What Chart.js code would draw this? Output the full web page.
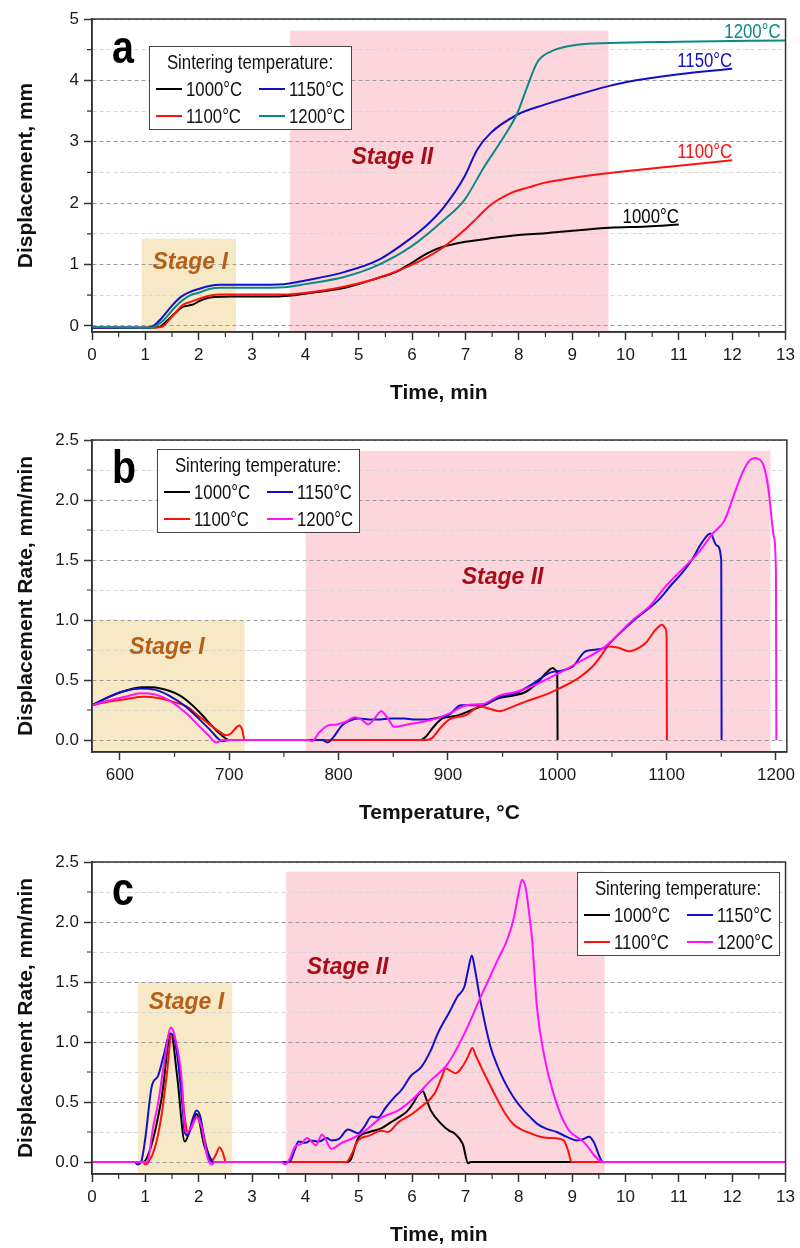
<!DOCTYPE html>
<html>
<head>
<meta charset="utf-8">
<script src="https://cdn.jsdelivr.net/npm/chart.js@4.4.1/dist/chart.umd.min.js"></script>
<style>
  html, body { margin: 0; padding: 0; background: #fff; }
  #wrap { position: relative; width: 800px; height: 1248px; }
  canvas { position: absolute; left: 0; top: 0; }
</style>
</head>
<body>
<div id="wrap">
  <canvas id="chartA" width="800" height="1248"></canvas>
  <canvas id="chartB" width="800" height="1248"></canvas>
  <canvas id="chartC" width="800" height="1248"></canvas>
</div>
<script>
const seriesNames = ['1000°C', '1100°C', '1150°C', '1200°C'];

// (a) displacement, mm vs time, min
const dispTime1000 = [[0,-0.03],[1.0,-0.03],[1.25,-0.02],[1.4,0.08],[1.55,0.2],[1.7,0.31],[1.8,0.33],[1.9,0.35],[2.0,0.4],[2.15,0.45],[2.3,0.47],[2.6,0.48],[3.0,0.48],[3.5,0.48],[3.8,0.5],[4.2,0.55],[4.74,0.62],[5.36,0.78],[5.7,0.88],[5.98,1.02],[6.2,1.14],[6.45,1.25],[6.72,1.32],[7.0,1.37],[7.5,1.43],[8.0,1.48],[8.5,1.51],[9.0,1.55],[9.7,1.6],[10.4,1.62],[11,1.65]];
const dispTime1100 = [[0,-0.03],[1.1,-0.03],[1.3,-0.02],[1.45,0.1],[1.6,0.25],[1.7,0.34],[1.85,0.39],[2.0,0.44],[2.2,0.49],[2.4,0.51],[3.0,0.51],[3.5,0.51],[3.8,0.52],[4.2,0.56],[4.74,0.64],[5.36,0.78],[5.98,0.99],[6.3,1.13],[6.6,1.29],[6.98,1.56],[7.22,1.76],[7.47,1.97],[7.84,2.16],[8.2,2.26],[8.47,2.33],[9.0,2.41],[9.7,2.49],[10,2.52],[11,2.61],[12,2.7]];
const dispTime1150 = [[0,-0.03],[1.05,-0.03],[1.15,0.0],[1.3,0.12],[1.5,0.33],[1.68,0.48],[1.86,0.56],[2.0,0.6],[2.2,0.65],[2.4,0.67],[3.0,0.67],[3.6,0.68],[4.0,0.74],[4.74,0.88],[5.36,1.07],[5.98,1.43],[6.3,1.66],[6.6,1.94],[6.98,2.43],[7.22,2.87],[7.47,3.14],[7.97,3.44],[8.47,3.6],[9.0,3.74],[9.7,3.91],[10,3.97],[11,4.1],[12,4.19]];
const dispTime1200 = [[0,-0.02],[1.1,-0.03],[1.2,0.0],[1.35,0.1],[1.55,0.3],[1.7,0.42],[1.85,0.5],[2.0,0.54],[2.2,0.6],[2.4,0.62],[3.0,0.62],[3.6,0.63],[4.0,0.68],[4.74,0.8],[5.36,0.99],[5.98,1.29],[6.6,1.73],[6.98,2.05],[7.35,2.59],[7.72,3.08],[7.97,3.46],[8.16,3.9],[8.35,4.3],[8.6,4.47],[9.1,4.58],[9.7,4.61],[11,4.63],[13,4.65]];

// (b) displacement rate, mm/min vs temperature, °C
const rateTemp1000 = [[574.5,0.29],[590,0.36],[605,0.41],[620,0.44],[630,0.44],[645,0.41],[655,0.37],[665,0.3],[675,0.21],[685,0.11],[693,0.04],[700,0.0],[706,0.0],[720,0],[800,0],[874,0],[880,0.03],[886,0.1],[895,0.18],[907,0.2],[922,0.25],[935,0.3],[947,0.35],[960,0.37],[971,0.4],[980,0.46],[990,0.56],[996,0.6],[999,0.58],[1000,0.56],[1000.3,0]];
const rateTemp1100 = [[574.5,0.29],[590,0.32],[605,0.34],[622,0.36],[635,0.35],[648,0.32],[661,0.28],[672,0.2],[682,0.13],[691,0.07],[697,0.04],[701,0.05],[705,0.09],[709,0.12],[712,0.08],[714,0],[800,0],[880,0],[886,0.02],[893,0.1],[901,0.17],[917,0.21],[929,0.28],[938,0.26],[947,0.24],[960,0.28],[971,0.32],[990,0.38],[1002,0.43],[1020,0.52],[1032,0.61],[1040,0.7],[1047,0.78],[1055,0.77],[1066,0.74],[1075,0.77],[1081,0.81],[1090,0.92],[1096,0.96],[1099,0.93],[1100,0.86],[1100.3,0]];
const rateTemp1150 = [[574.5,0.29],[590,0.36],[605,0.41],[619,0.43],[632,0.42],[645,0.37],[660,0.28],[673,0.17],[684,0.07],[690,0.01],[694,-0.01],[700,0],[785,0],[790,-0.02],[795,0.02],[803,0.12],[810,0.16],[818,0.18],[830,0.17],[836,0.17],[848,0.18],[860,0.18],[870,0.17],[880,0.17],[893,0.19],[901,0.21],[912,0.29],[932,0.29],[947,0.36],[962,0.39],[978,0.47],[993,0.56],[1005,0.58],[1014,0.61],[1026,0.74],[1041,0.76],[1055,0.87],[1069,0.99],[1080,1.07],[1093,1.17],[1105,1.3],[1114,1.39],[1123,1.5],[1132,1.64],[1140,1.72],[1146,1.62],[1150,1.5],[1150.3,0]];
const rateTemp1200 = [[574.5,0.29],[590,0.33],[605,0.36],[619,0.39],[632,0.38],[645,0.33],[661,0.22],[672,0.12],[681,0.04],[688,-0.02],[695,0],[772,0],[776,-0.01],[782,0.06],[790,0.12],[798,0.13],[806,0.15],[815,0.19],[821,0.17],[827,0.13],[833,0.18],[839,0.24],[845,0.18],[851,0.11],[863,0.13],[876,0.15],[890,0.18],[901,0.22],[917,0.29],[932,0.3],[947,0.37],[962,0.4],[980,0.46],[1002,0.56],[1020,0.65],[1044,0.78],[1069,1.0],[1085,1.12],[1099,1.28],[1114,1.42],[1130,1.57],[1142,1.72],[1153,1.83],[1160,2.0],[1169,2.22],[1176,2.33],[1181,2.35],[1186,2.33],[1189,2.28],[1193,2.1],[1195,1.94],[1198,1.7],[1200,1.4],[1200.4,0]];

// (c) displacement rate, mm/min vs time, min
const rateTime1000 = [[0,0],[0.85,0],[0.96,0],[1.1,0.12],[1.3,0.52],[1.48,1.07],[1.6,0.7],[1.74,0.17],[1.86,0.3],[1.96,0.4],[2.11,0.13],[2.26,0.0],[3,0],[4.8,0],[4.85,0.02],[4.99,0.2],[5.2,0.25],[5.42,0.28],[5.6,0.33],[5.74,0.37],[5.9,0.42],[6.02,0.49],[6.1,0.55],[6.2,0.59],[6.27,0.52],[6.35,0.43],[6.54,0.32],[6.7,0.26],[6.79,0.24],[6.95,0.15],[7.05,-0.01],[7.1,0],[13,0]];
const rateTime1100 = [[0,0],[0.95,0],[1.0,-0.02],[1.06,0],[1.18,0.12],[1.3,0.38],[1.4,0.72],[1.49,1.05],[1.56,1.0],[1.64,0.8],[1.76,0.3],[1.8,0.24],[1.88,0.3],[1.96,0.38],[2.05,0.3],[2.17,0.08],[2.26,0.02],[2.32,0.06],[2.39,0.12],[2.45,0.08],[2.51,0.0],[4.77,0],[4.85,0.05],[4.99,0.18],[5.2,0.22],[5.42,0.26],[5.55,0.25],[5.74,0.33],[6.0,0.4],[6.17,0.46],[6.42,0.57],[6.55,0.7],[6.63,0.78],[6.72,0.76],[6.82,0.74],[6.95,0.8],[7.05,0.88],[7.13,0.95],[7.2,0.88],[7.35,0.74],[7.6,0.52],[7.75,0.4],[7.91,0.31],[8.05,0.27],[8.22,0.24],[8.4,0.21],[8.59,0.2],[8.84,0.18],[8.92,0.1],[8.99,0.0],[13,0]];
const rateTime1150 = [[0,0],[0.8,0],[0.85,-0.02],[0.92,0.0],[1.0,0.2],[1.12,0.63],[1.24,0.72],[1.35,0.9],[1.46,1.07],[1.53,1.05],[1.61,0.85],[1.7,0.45],[1.74,0.24],[1.8,0.22],[1.88,0.35],[1.96,0.43],[2.03,0.38],[2.11,0.18],[2.23,0.02],[2.3,0],[3.7,0],[3.8,0.1],[3.87,0.17],[4.0,0.16],[4.1,0.18],[4.25,0.17],[4.4,0.2],[4.49,0.18],[4.62,0.19],[4.8,0.27],[4.99,0.24],[5.1,0.29],[5.24,0.38],[5.36,0.37],[5.5,0.45],[5.67,0.54],[5.8,0.6],[5.98,0.72],[6.17,0.79],[6.35,0.93],[6.48,1.07],[6.7,1.25],[6.85,1.38],[6.98,1.46],[7.05,1.6],[7.12,1.72],[7.18,1.6],[7.29,1.32],[7.47,0.96],[7.6,0.8],[7.72,0.68],[7.9,0.54],[8.09,0.43],[8.2,0.38],[8.34,0.32],[8.5,0.28],[8.71,0.25],[8.9,0.21],[9.09,0.18],[9.2,0.19],[9.32,0.21],[9.4,0.17],[9.58,0.0],[13,0]];
const rateTime1200 = [[0,0],[0.95,0],[1.03,0.0],[1.15,0.3],[1.24,0.49],[1.35,0.82],[1.48,1.12],[1.55,1.05],[1.67,0.74],[1.76,0.24],[1.85,0.28],[1.96,0.37],[2.05,0.3],[2.17,0.03],[2.25,-0.02],[2.3,0],[3.55,0],[3.62,-0.02],[3.7,0.02],[3.81,0.13],[3.92,0.15],[4.03,0.2],[4.2,0.14],[4.31,0.23],[4.49,0.11],[4.68,0.16],[4.9,0.2],[5.12,0.26],[5.42,0.37],[5.74,0.43],[6.05,0.54],[6.35,0.68],[6.67,0.82],[6.98,1.07],[7.29,1.38],[7.6,1.68],[7.78,1.85],[7.91,2.04],[8.0,2.25],[8.06,2.35],[8.13,2.28],[8.2,2.05],[8.25,1.85],[8.34,1.29],[8.47,0.9],[8.65,0.57],[8.9,0.29],[9.21,0.17],[9.58,0],[13,0]];

// axis ticks
const timeMajor = [0,1,2,3,4,5,6,7,8,9,10,11,12,13];
const timeMinor = [0.5,1.5,2.5,3.5,4.5,5.5,6.5,7.5,8.5,9.5,10.5,11.5,12.5];
const tempMajor = [600,700,800,900,1000,1100,1200];
const tempMinor = [650,750,850,950,1050,1150];
const dispMajor = [0,1,2,3,4,5];
const dispMinor = [0.5,1.5,2.5,3.5,4.5];
const rateMajor = [0,0.5,1,1.5,2,2.5];
const rateMinor = [0.25,0.75,1.25,1.75,2.25];

// stage regions: [start, end, top value]
const stagesA = [[0.93, 2.70, 1.42], [3.71, 9.68, 4.81]];
const stagesB = [[574.5, 714, 1.0], [770, 1195, 2.41]];
const stagesC = [[0.86, 2.63, 1.5], [3.64, 9.61, 2.42]];
const stageNames = ['Stage I', 'Stage II'];

const colorsA = ['#000000', '#ff1010', '#1010c8', '#0a8a84'];
const colorsBC = ['#000000', '#ff1010', '#1010c8', '#ff10ff'];
const stageFill = ['#f7e9c6', '#fdd5dc'];
const stageInk = ['#b5601a', '#a50d18'];

const sans = "'Liberation Sans', Arial, sans-serif";
const SQUEEZE = 0.84; // narrow look for hand-drawn labels

function narrowText(ctx, text, x, y) {
    ctx.save();
    ctx.translate(x, y);
    ctx.scale(SQUEEZE, 1);
    ctx.fillText(text, 0, 0);
    ctx.restore();
}

function axis(dir, min, max, major, minor, title, fmt) {
    const isMajor = v => major.includes(v);
    return {
        type: 'linear',
        position: dir === 'x' ? 'bottom' : 'left',
        min: min,
        max: max,
        afterBuildTicks: s => { s.ticks = major.concat(minor).sort((a, b) => a - b).map(v => ({ value: v })); },
        afterFit: s => { if (dir === 'x') s.height = 74; else s.width = 92; },
        ticks: {
            autoSkip: false, maxRotation: 0, padding: dir === 'x' ? 5 : 5, color: '#1a1a1a',
            font: { family: sans, size: 17 },
            callback: v => isMajor(v) ? fmt(v) : ''
        },
        grid: {
            drawOnChartArea: dir === 'y',
            color: c => (c.tick && isMajor(c.tick.value)) ? '#9c9c9c' : '#d6d6d6',
            lineWidth: 1,
            tickLength: 8,
            tickWidth: 1.5,
            tickColor: c => (c.tick && isMajor(c.tick.value)) ? '#333' : 'rgba(0,0,0,0)'
        },
        border: { color: '#333', width: 1.5, dash: c => c.tick ? [4, 3] : [] },
        title: {
            display: true, text: title, color: '#111',
            font: { family: sans, size: 21, weight: 'bold', lineHeight: 1 },
            padding: dir === 'x' ? { top: 0, bottom: 2 } : { top: 16, bottom: 0 }
        }
    };
}

function decor(p) {
    return {
        id: 'decor_' + p.letter,
        beforeDraw(chart) {
            const { ctx, chartArea: ca, scales: { x, y } } = chart;
            ctx.save();
            p.stages.forEach(([x0, x1, top], k) => {
                const l = Math.max(x.getPixelForValue(x0), ca.left);
                const r = Math.min(x.getPixelForValue(x1), ca.right);
                const t = y.getPixelForValue(top);
                ctx.fillStyle = stageFill[k];
                ctx.fillRect(l, t, r - l, ca.bottom - t);
            });
            ctx.restore();
        },
        afterDraw(chart) {
            const { ctx, chartArea: ca, scales: { x, y } } = chart;
            ctx.save();
            // frame
            ctx.strokeStyle = '#333';
            ctx.lineWidth = 1.5;
            ctx.strokeRect(ca.left, ca.top, ca.right - ca.left, ca.bottom - ca.top);
            // minor tick marks
            ctx.lineWidth = 1.2;
            ctx.beginPath();
            p.xMinor.forEach(v => {
                const px = x.getPixelForValue(v);
                ctx.moveTo(px, ca.bottom); ctx.lineTo(px, ca.bottom + 5);
            });
            p.yMinor.forEach(v => {
                const py = y.getPixelForValue(v);
                ctx.moveTo(ca.left, py); ctx.lineTo(ca.left - 5, py);
            });
            ctx.stroke();

            // stage labels
            ctx.font = 'italic bold 23px ' + sans;
            ctx.textAlign = 'center';
            ctx.textBaseline = 'middle';
            p.stageText.forEach(([tx, ty], k) => {
                ctx.fillStyle = stageInk[k];
                ctx.fillText(stageNames[k], x.getPixelForValue(tx), y.getPixelForValue(ty));
            });

            // panel letter
            ctx.fillStyle = '#000';
            ctx.font = 'bold 47px ' + sans;
            ctx.textAlign = 'left';
            ctx.textBaseline = 'alphabetic';
            narrowText(ctx, p.letter, ca.left + 20, ca.top + p.letterDy);

            // end-of-curve labels
            if (p.endLabels) {
                ctx.font = '20px ' + sans;
                ctx.textAlign = 'right';
                p.series.forEach((pts, i) => {
                    const [lx, ly] = pts[pts.length - 1];
                    ctx.fillStyle = p.colors[i];
                    narrowText(ctx, seriesNames[i], Math.min(x.getPixelForValue(lx), ca.right - 5), y.getPixelForValue(ly) - 2);
                });
            }

            // legend box
            const L = ca.left + p.legend[0], T = ca.top + p.legend[1];
            ctx.fillStyle = '#fff';
            ctx.fillRect(L, T, 202, 83);
            ctx.strokeStyle = '#444';
            ctx.lineWidth = 1;
            ctx.strokeRect(L + 0.5, T + 0.5, 202, 83);
            ctx.fillStyle = '#111';
            ctx.font = '20px ' + sans;
            ctx.textAlign = 'center';
            ctx.textBaseline = 'middle';
            narrowText(ctx, 'Sintering temperature:', L + 101, T + 17);
            const slots = [[0, 0, 0], [2, 1, 0], [1, 0, 1], [3, 1, 1]];
            ctx.textAlign = 'left';
            slots.forEach(([i, col, row]) => {
                const cx = L + 7 + col * 103, cy = T + 43 + row * 27;
                ctx.strokeStyle = p.colors[i];
                ctx.lineWidth = 2;
                ctx.beginPath();
                ctx.moveTo(cx, cy); ctx.lineTo(cx + 26, cy);
                ctx.stroke();
                ctx.fillStyle = '#111';
                narrowText(ctx, seriesNames[i], cx + 30, cy + 1);
            });
            ctx.restore();
        }
    };
}

function makePanel(id, p) {
    const datasets = p.series.map((pts, i) => ({
        label: seriesNames[i],
        data: pts.map(([x, y]) => ({ x: x, y: y })),
        borderColor: p.colors[i],
        borderWidth: 2,
        pointRadius: 0,
        fill: false,
        cubicInterpolationMode: 'monotone',
        order: p.series.length - i
    }));
    return new Chart(document.getElementById(id), {
        type: 'line',
        data: { datasets: datasets },
        options: {
            responsive: false,
            animation: false,
            events: [],
            layout: { padding: { left: 0, right: 10, top: p.top, bottom: 1248 - p.bottom - 74 } },
            plugins: { legend: { display: false }, tooltip: { enabled: false } },
            scales: {
                x: axis('x', p.xMin, p.xMax, p.xMajor, p.xMinor, p.xTitle, p.xFmt),
                y: axis('y', p.yMin, p.yMax, p.yMajor, p.yMinor, p.yTitle, p.yFmt)
            }
        },
        plugins: [decor(p)]
    });
}

makePanel('chartA', {
    letter: 'a', letterDy: 44, top: 19, bottom: 332,
    xMin: 0, xMax: 13, yMin: -0.1, yMax: 5,
    xMajor: timeMajor, xMinor: timeMinor, yMajor: dispMajor, yMinor: dispMinor,
    xTitle: 'Time, min', yTitle: 'Displacement, mm',
    xFmt: v => String(v), yFmt: v => String(v),
    series: [dispTime1000, dispTime1100, dispTime1150, dispTime1200], colors: colorsA,
    stages: stagesA, stageText: [[1.84, 1.03], [5.63, 2.74]],
    legend: [57, 27], endLabels: true
});

makePanel('chartB', {
    letter: 'b', letterDy: 43, top: 440, bottom: 752,
    xMin: 574.5, xMax: 1210, yMin: -0.1, yMax: 2.5,
    xMajor: tempMajor, xMinor: tempMinor, yMajor: rateMajor, yMinor: rateMinor,
    xTitle: 'Temperature, °C', yTitle: 'Displacement Rate, mm/min',
    xFmt: v => String(v), yFmt: v => v.toFixed(1),
    series: [rateTemp1000, rateTemp1100, rateTemp1150, rateTemp1200], colors: colorsBC,
    stages: stagesB, stageText: [[643, 0.77], [950, 1.35]],
    legend: [65, 9], endLabels: false
});

makePanel('chartC', {
    letter: 'c', letterDy: 43, top: 862, bottom: 1174,
    xMin: 0, xMax: 13, yMin: -0.1, yMax: 2.5,
    xMajor: timeMajor, xMinor: timeMinor, yMajor: rateMajor, yMinor: rateMinor,
    xTitle: 'Time, min', yTitle: 'Displacement Rate, mm/min',
    xFmt: v => String(v), yFmt: v => v.toFixed(1),
    series: [rateTime1000, rateTime1100, rateTime1150, rateTime1200], colors: colorsBC,
    stages: stagesC, stageText: [[1.77, 1.33], [4.79, 1.62]],
    legend: [485, 10], endLabels: false
});
</script>
</body>
</html>
